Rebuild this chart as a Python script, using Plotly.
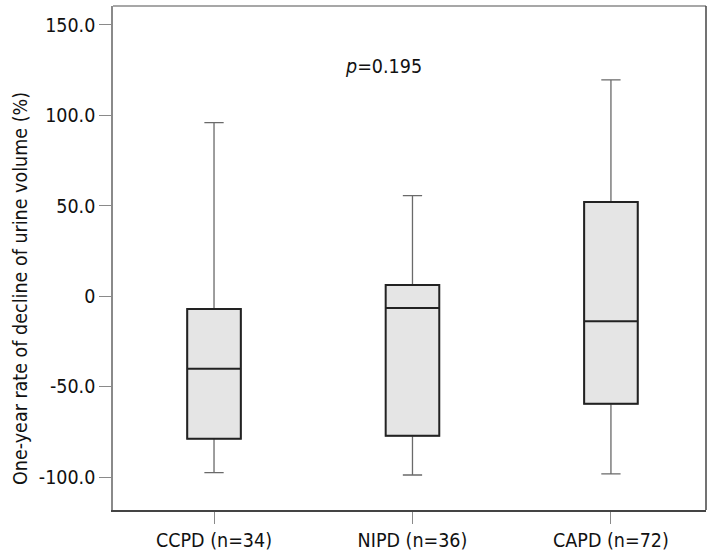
import plotly.graph_objects as go

categories = ["CCPD (n=34)", "NIPD (n=36)", "CAPD (n=72)"]
lower_whisker = [-97.6, -98.9, -98.3]
q1 = [-78.8, -77.2, -59.5]
median = [-40.1, -6.5, -13.9]
q3 = [-7.1, 6.2, 52.1]
upper_whisker = [96.0, 55.6, 119.6]
y_tickvals = [-100, -50, 0, 50, 100, 150]
y_ticktext = ["-100.0", "-50.0", "0", "50.0", "100.0", "150.0"]
p_text = "<i>p</i>=0.195"
y_title = "One-year rate of decline of urine volume (%)"

FONT = "'Liberation Sans Narrow', 'DejaVu Sans Condensed', 'Arial Narrow', Roboto, sans-serif"
FS = 19.5
xpos = list(range(len(categories)))

W, H = 713, 559
ML, MR, MT, MB = 113, 7, 6, 49
plot_w = W - ML - MR
plot_h = H - MT - MB

fig = go.Figure()
# whiskers (gray)
fig.add_trace(go.Box(
    x=xpos, q1=q1, median=median, q3=q3,
    lowerfence=lower_whisker, upperfence=upper_whisker,
    width=0.27, whiskerwidth=0.36,
    fillcolor="#e5e5e5", line=dict(color="#6a6a6a", width=1.3),
    boxpoints=False, showlegend=False, hoverinfo="skip",
))
# box body (dark)
fig.add_trace(go.Box(
    x=xpos, q1=q1, median=median, q3=q3,
    lowerfence=q1, upperfence=q3,
    width=0.27, whiskerwidth=0,
    fillcolor="#e5e5e5", line=dict(color="#222222", width=2),
    boxpoints=False, showlegend=False,
))

fig.add_annotation(x=0.854, y=126.8, xref="x", yref="y", text=p_text,
                   showarrow=False, xanchor="center", yanchor="middle",
                   font=dict(family=FONT, size=FS, color="#111"))

fig.add_annotation(x=(20 - ML) / plot_w, y=(H - MB - 289) / plot_h,
                   xref="paper", yref="paper", text=y_title,
                   showarrow=False, textangle=-90, xanchor="center", yanchor="middle",
                   font=dict(family=FONT, size=FS, color="#111"))

# frame top and right
fig.add_shape(type="line", xref="paper", yref="paper", x0=0, x1=1, y0=1, y1=1,
              line=dict(color="#8a8a8a", width=1.5))
fig.add_shape(type="line", xref="paper", yref="paper", x0=1, x1=1, y0=0, y1=1,
              line=dict(color="#444444", width=1.5))

fig.update_layout(
    width=W, height=H,
    margin=dict(l=ML, r=MR, t=MT, b=MB),
    paper_bgcolor="white", plot_bgcolor="white",
    font=dict(family=FONT, size=FS, color="#111"),
    xaxis=dict(
        tickvals=xpos, ticktext=categories, range=[-0.509, 2.479],
        showgrid=False, zeroline=False, showline=True, linecolor="#444444", linewidth=1.5,
        ticks="outside", ticklen=12, tickcolor="#8a8a8a", tickwidth=1,
        tickfont=dict(family=FONT, size=FS, color="#111"),
    ),
    yaxis=dict(
        tickvals=y_tickvals, ticktext=y_ticktext, range=[-118.25, 160.5],
        showgrid=False, zeroline=False, showline=True, linecolor="#8a8a8a", linewidth=1.5,
        ticks="outside", ticklen=12, tickcolor="#8a8a8a", tickwidth=1,
        tickfont=dict(family=FONT, size=FS, color="#111"),
    ),
)

fig.write_html("out.html", config={"displayModeBar": False},
               post_script="document.body.style.margin='0';document.body.style.padding='0';")
